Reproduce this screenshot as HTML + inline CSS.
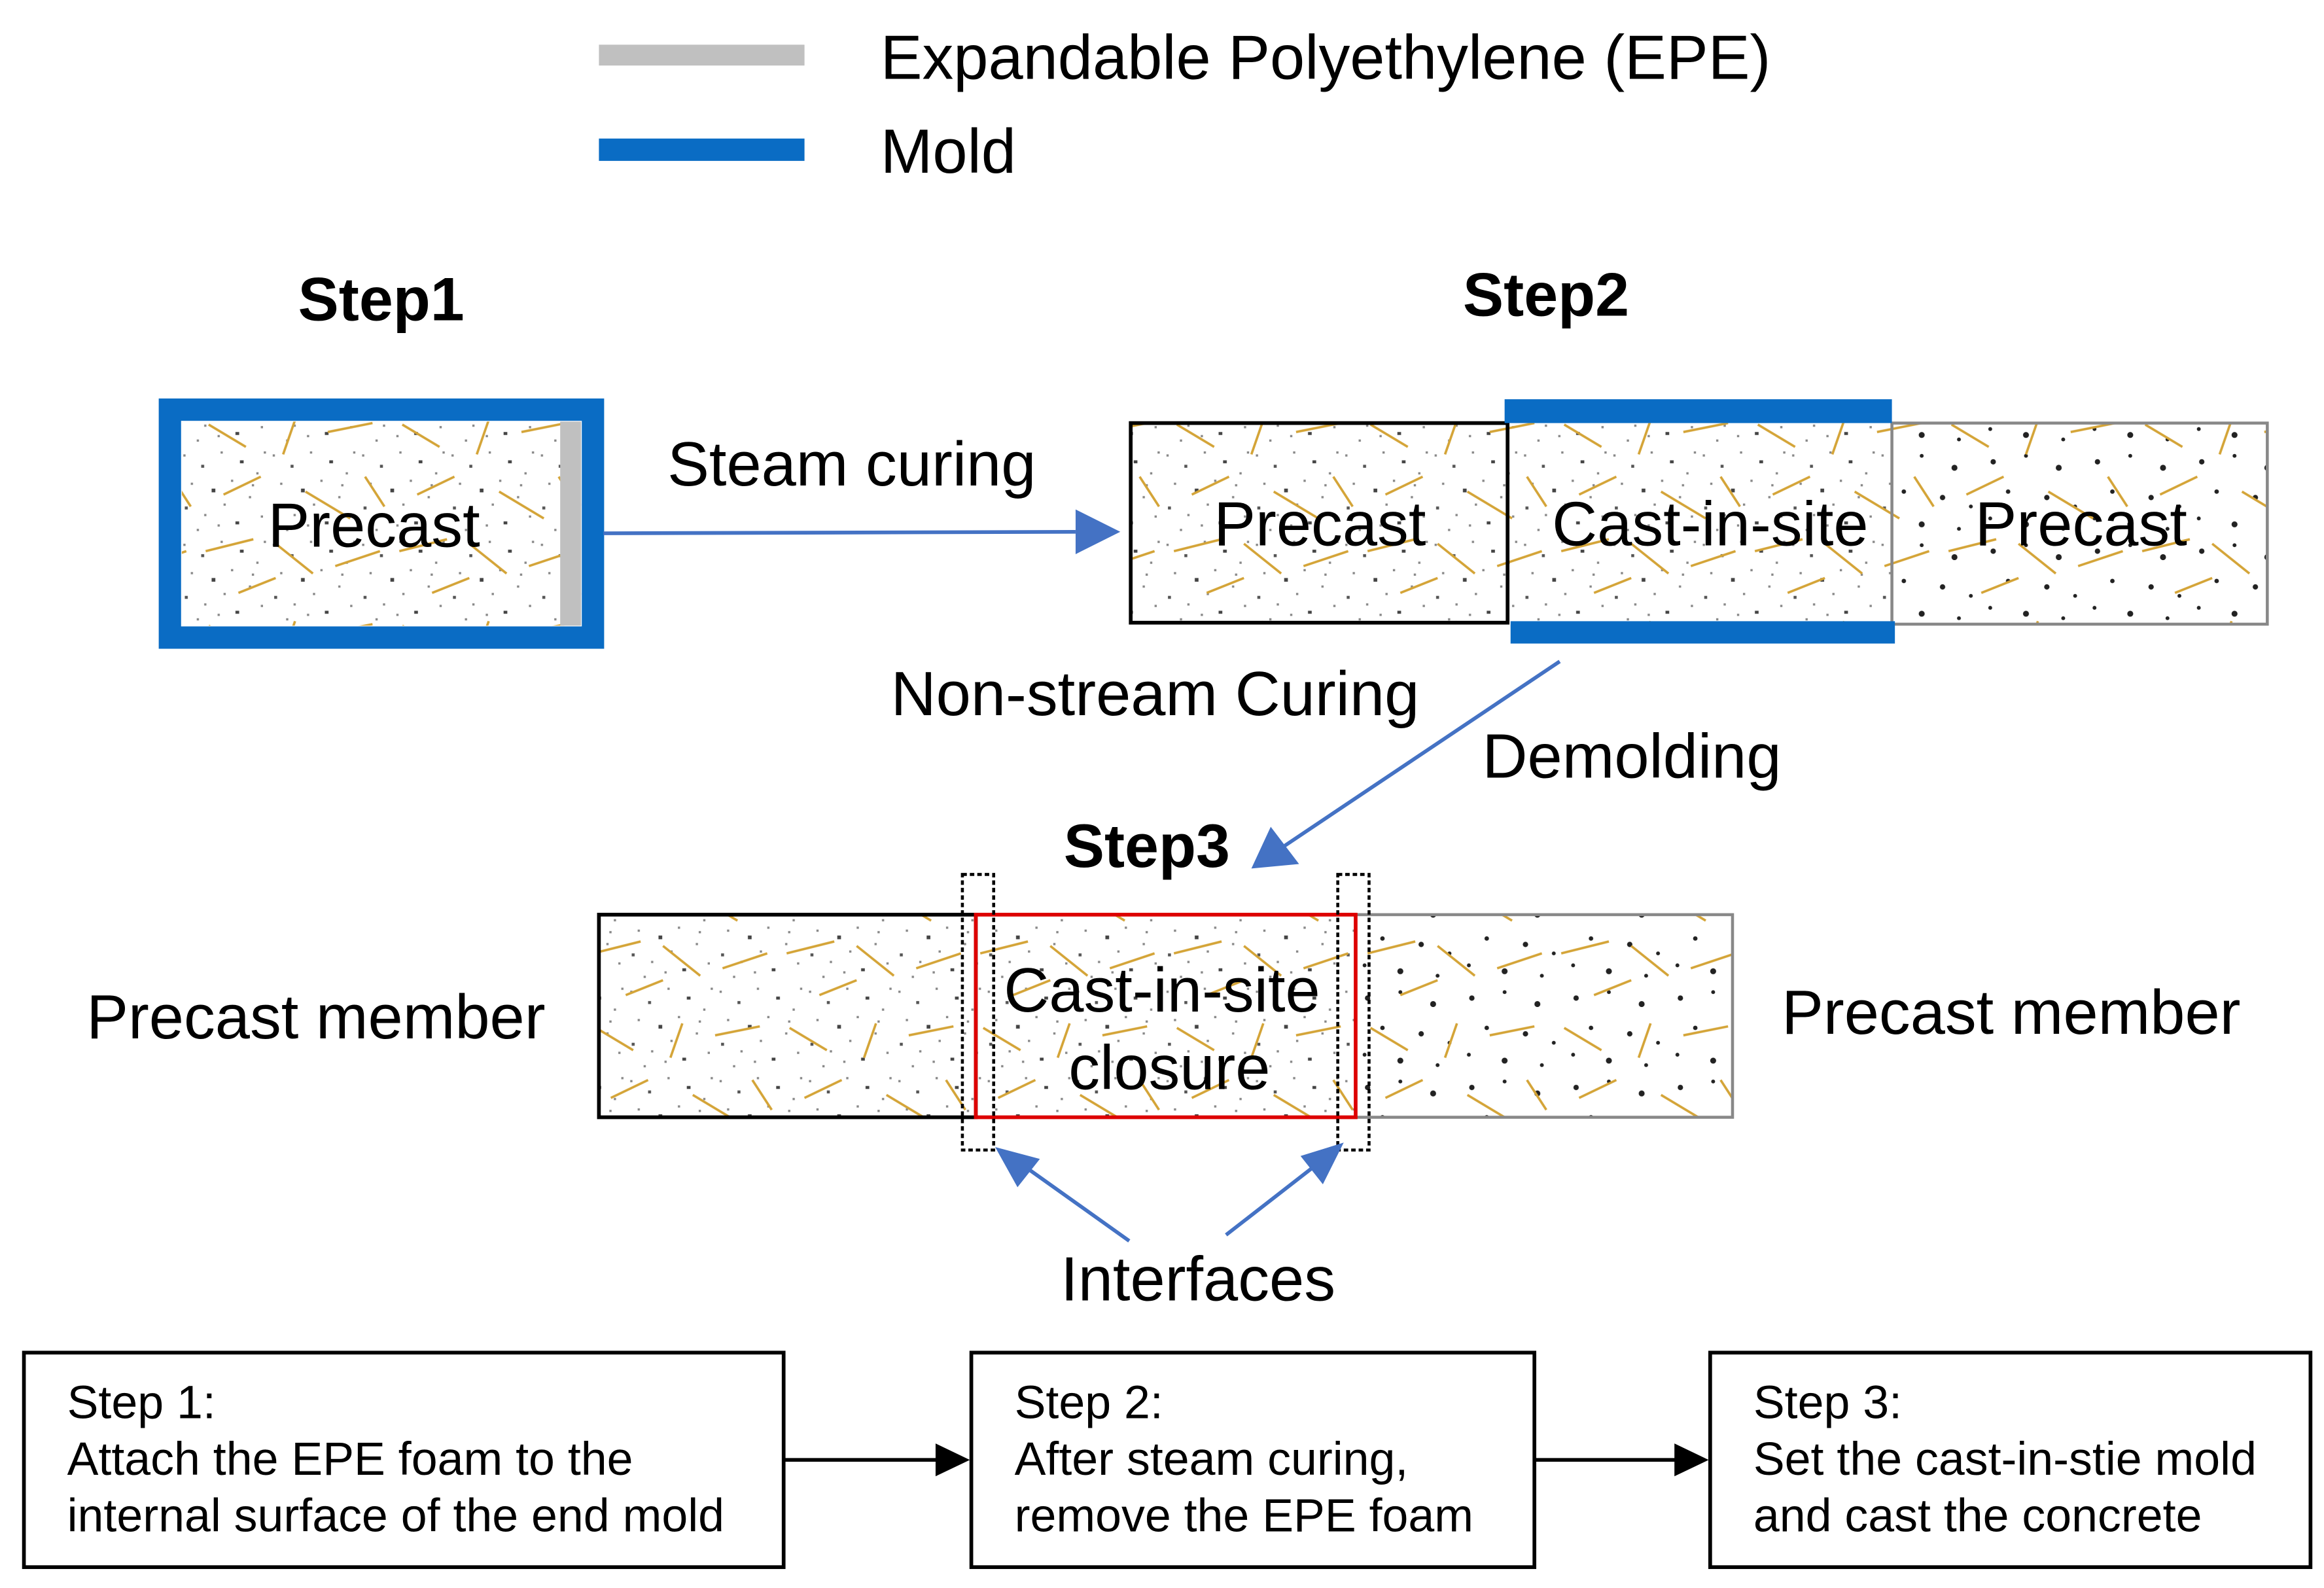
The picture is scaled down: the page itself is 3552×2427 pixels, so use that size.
<!DOCTYPE html>
<html><head><meta charset="utf-8"><style>
html,body{margin:0;padding:0;background:#fff;}
svg{display:block;}
text{font-family:"Liberation Sans",Arial,sans-serif;fill:#000;}
</style></head><body>
<svg width="3552" height="2427" viewBox="0 0 1560 1066" xmlns="http://www.w3.org/2000/svg">
<defs>
<pattern id="fine" width="60" height="60" patternUnits="userSpaceOnUse">
<g fill="#888">
<rect x="3" y="5" width="1.5" height="1.5"/><rect x="15" y="12" width="2" height="2" fill="#555"/><rect x="28" y="3" width="1.5" height="1.5"/>
<rect x="41" y="9" width="2.5" height="2" fill="#444"/><rect x="52" y="17" width="1.5" height="1.5"/><rect x="8" y="24" width="1.5" height="1.5"/>
<rect x="22" y="28" width="2.5" height="2.5" fill="#444"/><rect x="35" y="22" width="1.5" height="1.5"/><rect x="47" y="33" width="1.5" height="1.5"/>
<rect x="4" y="40" width="2" height="2" fill="#555"/><rect x="17" y="45" width="1.5" height="1.5"/><rect x="30" y="38" width="1.5" height="1.5"/>
<rect x="38" y="50" width="2.5" height="2" fill="#444"/><rect x="55" y="46" width="1.5" height="1.5"/><rect x="12" y="55" width="1.5" height="1.5"/>
<rect x="26" y="52" width="1.5" height="1.5"/><rect x="57" y="3" width="1.5" height="1.5"/><rect x="49" y="25" width="1.5" height="1.5"/>
</g></pattern>
<pattern id="coarse" width="70" height="60" patternUnits="userSpaceOnUse">
<g fill="#222">
<circle cx="8" cy="10" r="1.8"/><circle cx="30" cy="6" r="1.3"/><circle cx="52" cy="14" r="2"/><circle cx="18" cy="30" r="1.5"/>
<circle cx="44" cy="34" r="1.8"/><circle cx="63" cy="40" r="1.3"/><circle cx="6" cy="48" r="1.3"/><circle cx="30" cy="52" r="2"/><circle cx="55" cy="55" r="1.3"/>
</g></pattern>
<pattern id="fib" width="130" height="135" patternUnits="userSpaceOnUse">
<g stroke="#d4a437" stroke-width="1.6">
<line x1="10" y1="15" x2="35" y2="30"/><line x1="60" y1="35" x2="68" y2="12"/><line x1="90" y1="20" x2="120" y2="14"/>
<line x1="20" y1="62" x2="45" y2="50"/><line x1="75" y1="60" x2="105" y2="78"/><line x1="115" y1="50" x2="128" y2="70"/>
<line x1="8" y1="100" x2="40" y2="92"/><line x1="55" y1="95" x2="80" y2="115"/><line x1="95" y1="110" x2="125" y2="100"/>
<line x1="30" y1="128" x2="55" y2="118"/>
</g></pattern>
</defs>

<rect x="402" y="30" width="138" height="14" fill="#c0c0c0"/>
<rect x="402" y="93" width="138" height="15" fill="#0a6cc4"/>
<text x="591" y="53" font-size="42">Expandable Polyethylene (EPE)</text>
<text x="591" y="116" font-size="42">Mold</text>

<text x="200" y="215" font-size="41" font-weight="bold">Step1</text>
<rect x="122" y="283" width="268" height="137" fill="url(#fine)"/>
<rect x="122" y="283" width="268" height="137" fill="url(#fib)"/>
<rect x="376" y="283" width="14" height="137" fill="#c0c0c0"/>
<rect x="114" y="275" width="284" height="153" fill="none" stroke="#0a6cc4" stroke-width="15"/>
<text x="251" y="367" font-size="42" text-anchor="middle">Precast</text>

<line x1="405" y1="358" x2="722" y2="357" stroke="#4472c4" stroke-width="2.5"/>
<polygon points="722,342 752,357 722,372" fill="#4472c4"/>
<text x="448" y="326" font-size="42">Steam curing</text>

<text x="982" y="212" font-size="41" font-weight="bold">Step2</text>
<rect x="759" y="284" width="253" height="134" fill="url(#fine)"/>
<rect x="759" y="284" width="253" height="134" fill="url(#fib)"/>
<rect x="1012" y="284" width="258" height="134" fill="url(#fine)"/>
<rect x="1012" y="284" width="258" height="134" fill="url(#fib)"/>
<rect x="1270" y="284" width="252" height="135" fill="url(#coarse)"/>
<rect x="1270" y="284" width="252" height="135" fill="url(#fib)"/>
<rect x="759" y="284" width="253" height="134" fill="none" stroke="#000" stroke-width="2.5"/>
<rect x="1270" y="284" width="252" height="135" fill="none" stroke="#888" stroke-width="2"/>
<rect x="1010" y="268" width="260" height="16" fill="#0a6cc4"/>
<rect x="1014" y="417" width="258" height="15" fill="#0a6cc4"/>
<text x="886" y="366" font-size="42" text-anchor="middle">Precast</text>
<text x="1148" y="366" font-size="42" text-anchor="middle">Cast-in-site</text>
<text x="1397" y="366" font-size="42" text-anchor="middle">Precast</text>

<text x="598" y="480" font-size="42">Non-stream Curing</text>
<text x="995" y="522" font-size="42">Demolding</text>
<line x1="1047" y1="444" x2="862" y2="568" stroke="#4472c4" stroke-width="2.5"/>
<polygon points="840,583 853,555 872,580" fill="#4472c4"/>

<text x="714" y="582" font-size="41" font-weight="bold">Step3</text>
<rect x="402" y="614" width="253" height="136" fill="url(#fine)"/>
<rect x="402" y="614" width="253" height="136" fill="url(#fib)"/>
<rect x="655" y="614" width="255" height="136" fill="url(#fine)"/>
<rect x="655" y="614" width="255" height="136" fill="url(#fib)"/>
<rect x="910" y="614" width="253" height="136" fill="url(#coarse)"/>
<rect x="910" y="614" width="253" height="136" fill="url(#fib)"/>
<rect x="402" y="614" width="253" height="136" fill="none" stroke="#000" stroke-width="2.5"/>
<rect x="910" y="614" width="253" height="136" fill="none" stroke="#888" stroke-width="2"/>
<rect x="655" y="614" width="255" height="136" fill="none" stroke="#d00" stroke-width="2.5"/>
<rect x="646" y="587" width="21" height="185" fill="none" stroke="#000" stroke-width="2" stroke-dasharray="3,2"/>
<rect x="898" y="587" width="21" height="185" fill="none" stroke="#000" stroke-width="2" stroke-dasharray="3,2"/>
<text x="780" y="679" font-size="42" text-anchor="middle">Cast-in-site</text>
<text x="785" y="731" font-size="42" text-anchor="middle">closure</text>
<text x="58" y="697" font-size="42">Precast member</text>
<text x="1196" y="694" font-size="42">Precast member</text>

<line x1="758" y1="833" x2="685" y2="781" stroke="#4472c4" stroke-width="2.5"/>
<polygon points="668,770 698,778 683,797" fill="#4472c4"/>
<line x1="823" y1="829" x2="886" y2="780" stroke="#4472c4" stroke-width="2.5"/>
<polygon points="902,767 888,795 873,776" fill="#4472c4"/>
<text x="712" y="873" font-size="42">Interfaces</text>

<g fill="#fff" stroke="#000" stroke-width="2.5">
<rect x="16" y="908" width="510" height="144"/>
<rect x="652" y="908" width="378" height="144"/>
<rect x="1148" y="908" width="403" height="144"/>
</g>
<g font-size="31.5">
<text x="45" y="952">Step 1:</text>
<text x="45" y="990">Attach the EPE foam to the</text>
<text x="45" y="1028">internal surface of the end mold</text>
<text x="681" y="952">Step 2:</text>
<text x="681" y="990">After steam curing,</text>
<text x="681" y="1028">remove the EPE foam</text>
<text x="1177" y="952">Step 3:</text>
<text x="1177" y="990">Set the cast-in-stie mold</text>
<text x="1177" y="1028">and cast the concrete</text>
</g>
<line x1="526" y1="980" x2="630" y2="980" stroke="#000" stroke-width="2.5"/>
<polygon points="628,969 651,980 628,991" fill="#000"/>
<line x1="1030" y1="980" x2="1126" y2="980" stroke="#000" stroke-width="2.5"/>
<polygon points="1124,969 1147,980 1124,991" fill="#000"/>
</svg>
</body></html>
